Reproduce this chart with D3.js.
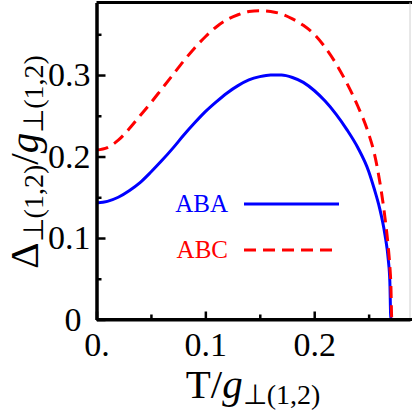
<!DOCTYPE html>
<html lang="en">
<head>
<meta charset="UTF-8">
<title>Gap vs T</title>
<style>
  body { margin: 0; background: #fff; }
  text { font-family: "Liberation Serif", "Times New Roman", serif; fill: #000; }
</style>
</head>
<body>
<script src="https://d3js.org/d3.v7.min.js"></script>
<script>
  let width = 412;
  let height = 420;
  let plot = { left: 96.5, right: 410, top: 2.5, bottom: 319.5 };

  // T / g
  let temps = [0, 0.01, 0.02, 0.03, 0.04, 0.05, 0.06, 0.07, 0.08, 0.09, 0.10,
               0.11, 0.12, 0.13, 0.14, 0.15, 0.16, 0.17, 0.18, 0.19, 0.20,
               0.21, 0.22, 0.23, 0.24, 0.25, 0.255, 0.26, 0.265, 0.268, 0.2695,
               0.2704, 0.2713, 0.28, 0.288];
  let abaGap = [0.143, 0.145, 0.150, 0.158, 0.168, 0.181, 0.195, 0.210, 0.226, 0.241, 0.255,
                0.267, 0.278, 0.287, 0.294, 0.298, 0.300, 0.300, 0.297, 0.291, 0.281,
                0.268, 0.252, 0.233, 0.211, 0.182, 0.161, 0.137, 0.104, 0.074, 0.046,
                0, 0, 0, 0];
  let abcGap = [0.208, 0.211, 0.220, 0.234, 0.250, 0.266, 0.283, 0.300, 0.317, 0.333, 0.347,
                0.359, 0.368, 0.374, 0.378, 0.379, 0.378, 0.375, 0.369, 0.361, 0.350,
                0.334, 0.314, 0.290, 0.262, 0.228, 0.205, 0.171, 0.125, 0.089, 0.065,
                0.044, 0, 0, 0];
  let seriesNames = ['ABA', 'ABC'];
  let xTicks = [0, 0.1, 0.2];
  let xMinor = [0.05, 0.15, 0.25];
  let yTicks = [0, 0.1, 0.2, 0.3];
  let yMinor = [0.05, 0.15, 0.25, 0.35];

  let svg = d3.select('body')
      .append('svg')
      .attr('width', width)
      .attr('height', height);

  let xScale = d3.scaleLinear().domain([0, 0.288]).range([plot.left, plot.right]);
  let yScale = d3.scaleLinear().domain([0, 0.389]).range([plot.bottom, plot.top]);

  // frame: heavy top, faint right
  svg.append('line')
      .attr('x1', plot.left).attr('x2', width)
      .attr('y1', plot.top).attr('y2', plot.top)
      .attr('stroke', '#000').attr('stroke-width', 3);
  svg.append('line')
      .attr('x1', plot.right).attr('x2', plot.right)
      .attr('y1', plot.top).attr('y2', plot.bottom)
      .attr('stroke', '#d0d0d0').attr('stroke-width', 1);

  // curves
  svg.append('clipPath').attr('id', 'clip')
      .append('rect')
      .attr('x', plot.left).attr('y', plot.top)
      .attr('width', plot.right - plot.left).attr('height', plot.bottom - plot.top);

  let line = d3.line()
      .x(d => xScale(d[0]))
      .y(d => yScale(d[1]))
      .curve(d3.curveMonotoneX);

  let series = [
      { name: seriesNames[0], values: abaGap, color: '#0000ff', dash: null },
      { name: seriesNames[1], values: abcGap, color: '#ff0000', dash: '12,7' }
  ];

  series.forEach(s => {
      svg.append('path')
          .attr('clip-path', 'url(#clip)')
          .attr('d', line(temps.map((t, i) => [t, s.values[i]])))
          .attr('fill', 'none')
          .attr('stroke', s.color)
          .attr('stroke-width', 3)
          .attr('stroke-dasharray', s.dash);
  });

  // axes
  let xAxis = d3.axisBottom(xScale)
      .tickValues(xTicks)
      .tickFormat(d => d === 0 ? '0.' : d3.format('.1f')(d))
      .tickSizeInner(-8)
      .tickSizeOuter(0)
      .tickPadding(12);
  let xMinorAxis = d3.axisBottom(xScale).tickValues(xMinor).tickFormat('').tickSizeInner(-5).tickSizeOuter(0);
  let yAxis = d3.axisLeft(yScale)
      .tickValues(yTicks)
      .tickFormat(d => d === 0 ? '0' : d3.format('.1f')(d))
      .tickSizeInner(-9)
      .tickSizeOuter(0)
      .tickPadding(6);
  let yMinorAxis = d3.axisLeft(yScale).tickValues(yMinor).tickFormat('').tickSizeInner(-5).tickSizeOuter(0);

  svg.append('g').attr('transform', 'translate(0,' + plot.bottom + ')').call(xMinorAxis);
  svg.append('g').attr('transform', 'translate(' + plot.left + ',0)').call(yMinorAxis);
  let gx = svg.append('g').attr('transform', 'translate(0,' + plot.bottom + ')').call(xAxis);
  let gy = svg.append('g').attr('transform', 'translate(' + plot.left + ',0)').call(yAxis);

  svg.selectAll('.domain').attr('stroke', '#000').attr('stroke-width', 3);
  svg.selectAll('.tick line').attr('stroke', '#000').attr('stroke-width', 2.5);
  svg.selectAll('.tick text')
      .attr('font-family', '"Liberation Serif", serif')
      .attr('font-size', 34)
      .attr('fill', '#000');
  gx.select('.domain').attr('d', 'M' + plot.left + ',0H' + width);
  // the "0" on the y axis sits further left, away from the x "0."
  gy.selectAll('.tick').filter(d => d === 0).select('text').attr('x', -15);

  // axis titles
  let xTitle = svg.append('text')
      .attr('x', 253).attr('y', 398)
      .attr('text-anchor', 'middle')
      .attr('font-size', 41);
  xTitle.append('tspan').text('T/');
  xTitle.append('tspan').attr('font-style', 'italic').text('g');
  xTitle.append('tspan').attr('font-size', 28).attr('dy', 6).text('\u22a5(1,2)');

  let yTitle = svg.append('text')
      .attr('transform', 'translate(38,162) rotate(-90)')
      .attr('text-anchor', 'middle')
      .attr('font-size', 41);
  yTitle.append('tspan').text('\u0394');
  yTitle.append('tspan').attr('font-size', 28).attr('dy', 5).text('\u22a5(1,2)');
  yTitle.append('tspan').attr('dy', -5).text('/');
  yTitle.append('tspan').attr('font-style', 'italic').text('g');
  yTitle.append('tspan').attr('font-size', 28).attr('dy', 5).text('\u22a5(1,2)');

  // legend
  let legend = svg.append('g');
  series.forEach((s, i) => {
      let yy = 204 + i * 46;
      legend.append('text')
          .attr('x', 228).attr('y', yy + 8)
          .attr('text-anchor', 'end')
          .attr('font-size', 25)
          .style('fill', s.color)
          .text(s.name);
      legend.append('line')
          .attr('x1', 244).attr('x2', 339)
          .attr('y1', yy).attr('y2', yy)
          .attr('stroke', s.color)
          .attr('stroke-width', 3)
          .attr('stroke-dasharray', s.dash);
  });
</script>
</body>
</html>
